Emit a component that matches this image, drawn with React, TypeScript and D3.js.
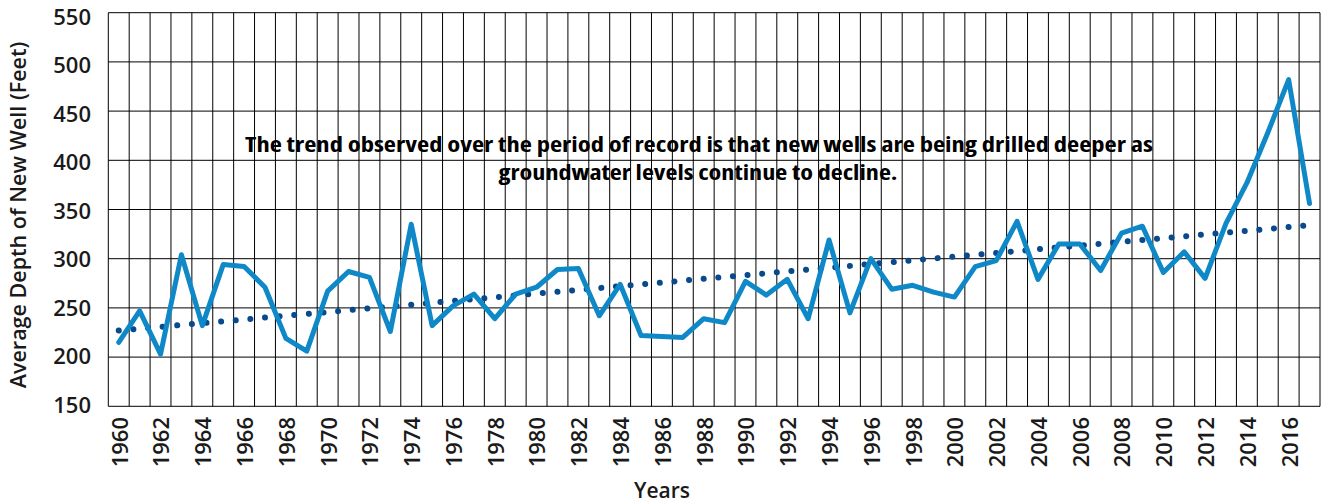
import React from "react";
import * as d3 from "d3";

const years: number[] = [
  1960, 1961, 1962, 1963, 1964, 1965, 1966, 1967, 1968, 1969,
  1970, 1971, 1972, 1973, 1974, 1975, 1976, 1977, 1978, 1979,
  1980, 1981, 1982, 1983, 1984, 1985, 1986, 1987, 1988, 1989,
  1990, 1991, 1992, 1993, 1994, 1995, 1996, 1997, 1998, 1999,
  2000, 2001, 2002, 2003, 2004, 2005, 2006, 2007, 2008, 2009,
  2010, 2011, 2012, 2013, 2014, 2015, 2016, 2017,
];

const depths: number[] = [
  215, 247, 203, 304, 232, 294, 292, 271, 219, 206,
  267, 287, 281, 226, 335, 232, 252, 264, 239, 264,
  271, 289, 290, 242, 274, 222, 221, 220, 239, 235,
  277, 263, 279, 239, 319, 245, 300, 269, 273, 266,
  261, 292, 298, 338, 279, 315, 315, 288, 326, 333,
  286, 307, 280, 336, 377, 428, 482, 356,
];

// linear trend end values (start year, end year)
const trendValues: number[] = [227, 334];

const yTicks: number[] = [150, 200, 250, 300, 350, 400, 450, 500, 550];
const xTickYears: number[] = years.filter((y) => y % 2 === 0 && y <= 2016);

const yAxisTitle = "Average Depth of New Well (Feet)";
const xAxisTitle = "Years";
const noteLines: string[] = [
  "The trend observed over the period of record is that new wells are being drilled deeper as",
  "groundwater levels continue to decline.",
];

const W = 1322;
const H = 504;
const L = 108.3;
const R = 1320;
const T = 12.7;
const B = 406.3;

const FONT = "'Open Sans', 'Noto Sans', sans-serif";

export default function App() {
  const x = d3.scaleBand<number>().domain(years).range([L, R]).paddingInner(0).paddingOuter(0);
  const y = d3.scaleLinear().domain([150, 550]).range([B, T]);
  const yLab = d3.scaleLinear().domain([150, 550]).range([404.7, 16.7]);
  const cx = (yr: number) => (x(yr) as number) + x.bandwidth() / 2;

  const line = d3
    .line<number>()
    .x((_, i) => cx(years[i]))
    .y((d) => y(d))
    .curve(d3.curveLinear);

  const trendPts: [number, number][] = [
    [cx(years[0]), y(trendValues[0])],
    [cx(years[years.length - 1]), y(trendValues[1])],
  ];
  const trendPath = d3.line()(trendPts) as string;

  const bandEdges = years.map((yr) => x(yr) as number).concat([R]);

  return (
    <svg
      width={W}
      height={H}
      style={{ position: "absolute", left: 0, top: 0, background: "#fff" }}
      fontFamily={FONT}
    >
      <rect x={0} y={0} width={W} height={H} fill="#fff" />
      {/* horizontal gridlines */}
      {yTicks.map((v) => (
        <line key={"h" + v} x1={L} x2={R} y1={y(v)} y2={y(v)} stroke="#000" strokeWidth={1} />
      ))}
      {/* vertical gridlines at category boundaries */}
      {bandEdges.map((xe, i) => (
        <line key={"v" + i} x1={xe} x2={xe} y1={T} y2={B} stroke="#000" strokeWidth={1} />
      ))}

      {/* note text */}
      <g fontFamily="'Open Sans', 'DejaVu Sans', sans-serif" fontWeight={700} fontSize={22} fill="#000" style={{ fontStretch: "75%" }} textAnchor="middle">
        <text x={699} y={152} textLength={908} lengthAdjust="spacingAndGlyphs">
          {noteLines[0]}
        </text>
        <text x={698} y={180} textLength={399} lengthAdjust="spacingAndGlyphs">
          {noteLines[1]}
        </text>
      </g>

      {/* trend */}
      <path
        d={trendPath}
        fill="none"
        stroke="#084a8c"
        strokeWidth={6}
        strokeLinecap="round"
        strokeDasharray="0.01 14.67"
      />
      {/* data line */}
      <path
        d={line(depths) as string}
        fill="none"
        stroke="#0f88c8"
        strokeWidth={5}
        strokeLinejoin="round"
        strokeLinecap="round"
      />

      {/* y tick labels */}
      <g fontSize={22} fontWeight={600} fill="#1a1a1a" textAnchor="end">
        {yTicks.map((v) => (
          <text key={"yl" + v} x={91} y={yLab(v)} dy="0.36em">
            {v}
          </text>
        ))}
      </g>
      {/* x tick labels */}
      <g fontSize={22} fontWeight={600} fill="#1a1a1a" textAnchor="end">
        {xTickYears.map((yr) => (
          <text key={"xl" + yr} transform={`translate(${cx(yr) + 1},417) rotate(-90)`} dy="0.36em">
            {yr}
          </text>
        ))}
      </g>
      {/* axis titles */}
      <text
        transform={`translate(26,215) rotate(-90)`}
        textAnchor="middle"
        fontSize={21.5}
        fontWeight={600}
        fill="#1a1a1a"
      >
        {yAxisTitle}
      </text>
      <text x={662} y={498} textAnchor="middle" fontSize={21} fontWeight={600} fill="#1a1a1a">
        {xAxisTitle}
      </text>
    </svg>
  );
}
